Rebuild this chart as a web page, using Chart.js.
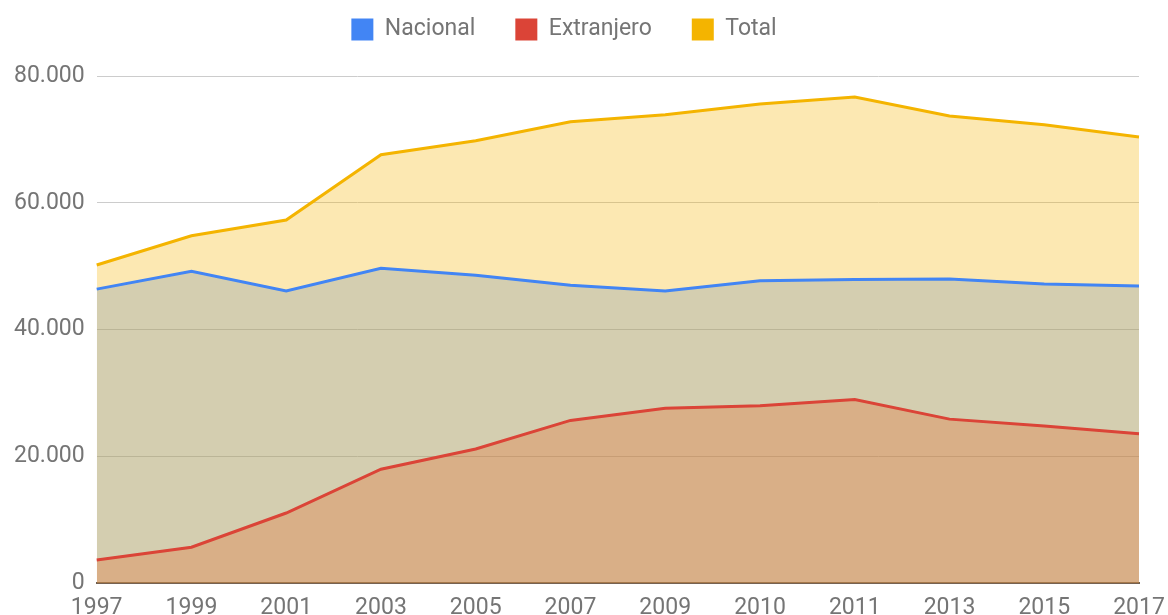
<!DOCTYPE html>
<html>
<head>
<meta charset="utf-8">
<script src="https://cdn.jsdelivr.net/npm/chart.js@4/dist/chart.umd.min.js"></script>
<style>
  html, body { margin: 0; padding: 0; background: #fff; overflow: hidden; }
  #wrap { width: 1168px; height: 633px; position: relative; }
</style>
</head>
<body>
<div id="wrap"><canvas id="chart"></canvas></div>
<script>
// Data
const years = ['1997', '1999', '2001', '2003', '2005', '2007', '2009', '2010', '2011', '2013', '2015', '2017'];
const nacional = [46400, 49200, 46100, 49700, 48600, 47000, 46100, 47700, 47900, 48000, 47200, 46900];
const extranjero = [3700, 5700, 11100, 18000, 21200, 25700, 27600, 28000, 29000, 25900, 24800, 23600];
const total = [50200, 54800, 57300, 67600, 69800, 72800, 73900, 75600, 76700, 73700, 72300, 70400];
const yTicks = [0, 20000, 40000, 60000, 80000];

const seriesNames = ['Nacional', 'Extranjero', 'Total'];
const seriesColors = ['#4285f4', '#db4437', '#f4b400'];
const seriesFills = ['rgba(66,133,244,0.3)', 'rgba(219,68,55,0.3)', 'rgba(244,180,0,0.3)'];
const seriesData = [nacional, extranjero, total];

Chart.defaults.font.family = 'Roboto, "Noto Sans", sans-serif';

// extra room under the legend, and nudge the legend up/left like the original
const legendGap = {
    id: 'legendGap',
    beforeInit(chart) {
        const fit = chart.legend.fit;
        chart.legend.fit = function() {
            fit.bind(chart.legend)();
            this.height += 3;
        };
    },
    afterLayout(chart) {
        chart.legend.top -= 22;
        chart.legend.right -= 42;
    }
};

function fmt(v) {
    return String(v).replace(/\B(?=(\d{3})+(?!\d))/g, '.');
}

const datasets = seriesNames.map((name, i) => ({
    label: name,
    data: seriesData[i],
    borderColor: seriesColors[i],
    backgroundColor: seriesFills[i],
    borderWidth: 3,
    fill: 'origin',
    tension: 0,
    pointRadius: 0,
    pointHoverRadius: 0,
    // Total drawn on top, Nacional at the bottom
    order: 3 - i
}));

new Chart(document.getElementById('chart'), {
    type: 'line',
    data: { labels: years, datasets: datasets },
    plugins: [legendGap],
    options: {
        responsive: true,
        maintainAspectRatio: false,
        animation: false,
        layout: { padding: { left: 2, right: 0, top: 0, bottom: 0 } },
        plugins: {
            filler: { drawTime: 'beforeDatasetsDraw' },
            tooltip: { enabled: false },
            legend: {
                position: 'top',
                labels: {
                    boxWidth: 22,
                    boxHeight: 22,
                    padding: 40,
                    color: '#757575',
                    font: { size: 23 },
                    generateLabels(chart) {
                        const items = Chart.defaults.plugins.legend.labels.generateLabels(chart);
                        items.forEach(it => {
                            it.fillStyle = seriesColors[it.datasetIndex];
                            it.strokeStyle = seriesColors[it.datasetIndex];
                            it.lineWidth = 0;
                        });
                        return items.sort((a, b) => a.datasetIndex - b.datasetIndex);
                    }
                }
            }
        },
        scales: {
            x: {
                z: 1,
                offset: false,
                grid: { display: false, drawTicks: false },
                border: { display: true, color: '#6e6050', width: 2 },
                ticks: {
                    color: '#757575',
                    font: { size: 23 },
                    padding: 11,
                    maxRotation: 0,
                    autoSkip: false
                },
                afterFit(scale) {
                    // last label may run to the canvas edge, as in the original
                    scale.paddingRight = 29;
                }
            },
            y: {
                min: 0,
                max: 80000,
                afterBuildTicks(axis) {
                    axis.ticks = yTicks.map(v => ({ value: v }));
                },
                grid: {
                    drawTicks: false,
                    color: ctx => (ctx.tick && ctx.tick.value === 0) ? 'rgba(0,0,0,0)' : '#cccccc',
                    lineWidth: 1
                },
                border: { display: false },
                ticks: {
                    color: '#757575',
                    font: { size: 23 },
                    padding: 12,
                    callback: v => fmt(v)
                }
            }
        }
    }
});
</script>
</body>
</html>
